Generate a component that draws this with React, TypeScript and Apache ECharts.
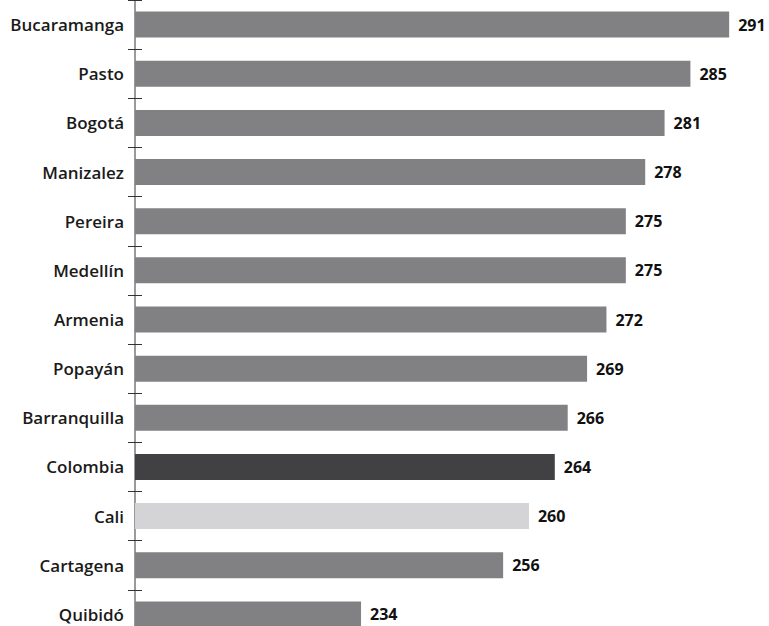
import React, { useEffect, useRef } from "react";
import * as echarts from "echarts";

const categories = [
  "Bucaramanga",
  "Pasto",
  "Bogotá",
  "Manizalez",
  "Pereira",
  "Medellín",
  "Armenia",
  "Popayán",
  "Barranquilla",
  "Colombia",
  "Cali",
  "Cartagena",
  "Quibidó",
];

const values = [291, 285, 281, 278, 275, 275, 272, 269, 266, 264, 260, 256, 234];

const BASE_COLOR = "#818184";
const special: Record<string, string> = {
  Colombia: "#414143",
  Cali: "#d4d4d6",
};

export default function App() {
  const ref = useRef<HTMLDivElement>(null);

  useEffect(() => {
    if (!ref.current) return;
    const chart = echarts.init(ref.current, undefined, { renderer: "svg" });
    const font = "'Open Sans', 'Noto Sans', sans-serif";
    chart.setOption({
      animation: false,
      grid: { left: 135, top: -1, width: 620, height: 640, containLabel: false },
      xAxis: {
        type: "value",
        min: 199,
        max: 295,
        show: false,
      },
      yAxis: [
        {
          type: "category",
          data: categories,
          inverse: true,
          position: "left",
          axisLine: { show: true, lineStyle: { color: "#9a9a9a", width: 2 } },
          axisTick: {
            show: true,
            length: 7,
            interval: 0,
            lineStyle: { color: "#333333", width: 1 },
          },
          axisLabel: {
            interval: 0,
            margin: 11,
            fontFamily: font,
            fontSize: 17,
            fontWeight: 600,
            color: "#1a1a1a",
            padding: [2, 0, 0, 0],
          },
        },
        {
          type: "category",
          data: categories,
          inverse: true,
          position: "left",
          axisLine: { show: false },
          axisTick: {
            show: true,
            inside: true,
            length: 7,
            interval: 0,
            lineStyle: { color: "#333333", width: 1 },
          },
          axisLabel: { show: false },
        },
      ],
      series: [
        {
          type: "bar",
          yAxisIndex: 0,
          barWidth: 26,
          data: values.map((v, i) => ({
            value: v,
            itemStyle: { color: special[categories[i]] ?? BASE_COLOR },
          })),
          label: {
            show: true,
            position: "right",
            distance: 9,
            fontFamily: font,
            fontSize: 16,
            fontWeight: "bold",
            color: "#111111",
            padding: [2, 0, 0, 0],
          },
        },
      ],
    });
    return () => chart.dispose();
  }, []);

  return (
    <div
      style={{
        position: "fixed",
        left: 0,
        top: 0,
        width: 769,
        height: 626,
        overflow: "hidden",
        background: "#ffffff",
      }}
    >
      <div ref={ref} style={{ width: 769, height: 640 }} />
    </div>
  );
}
